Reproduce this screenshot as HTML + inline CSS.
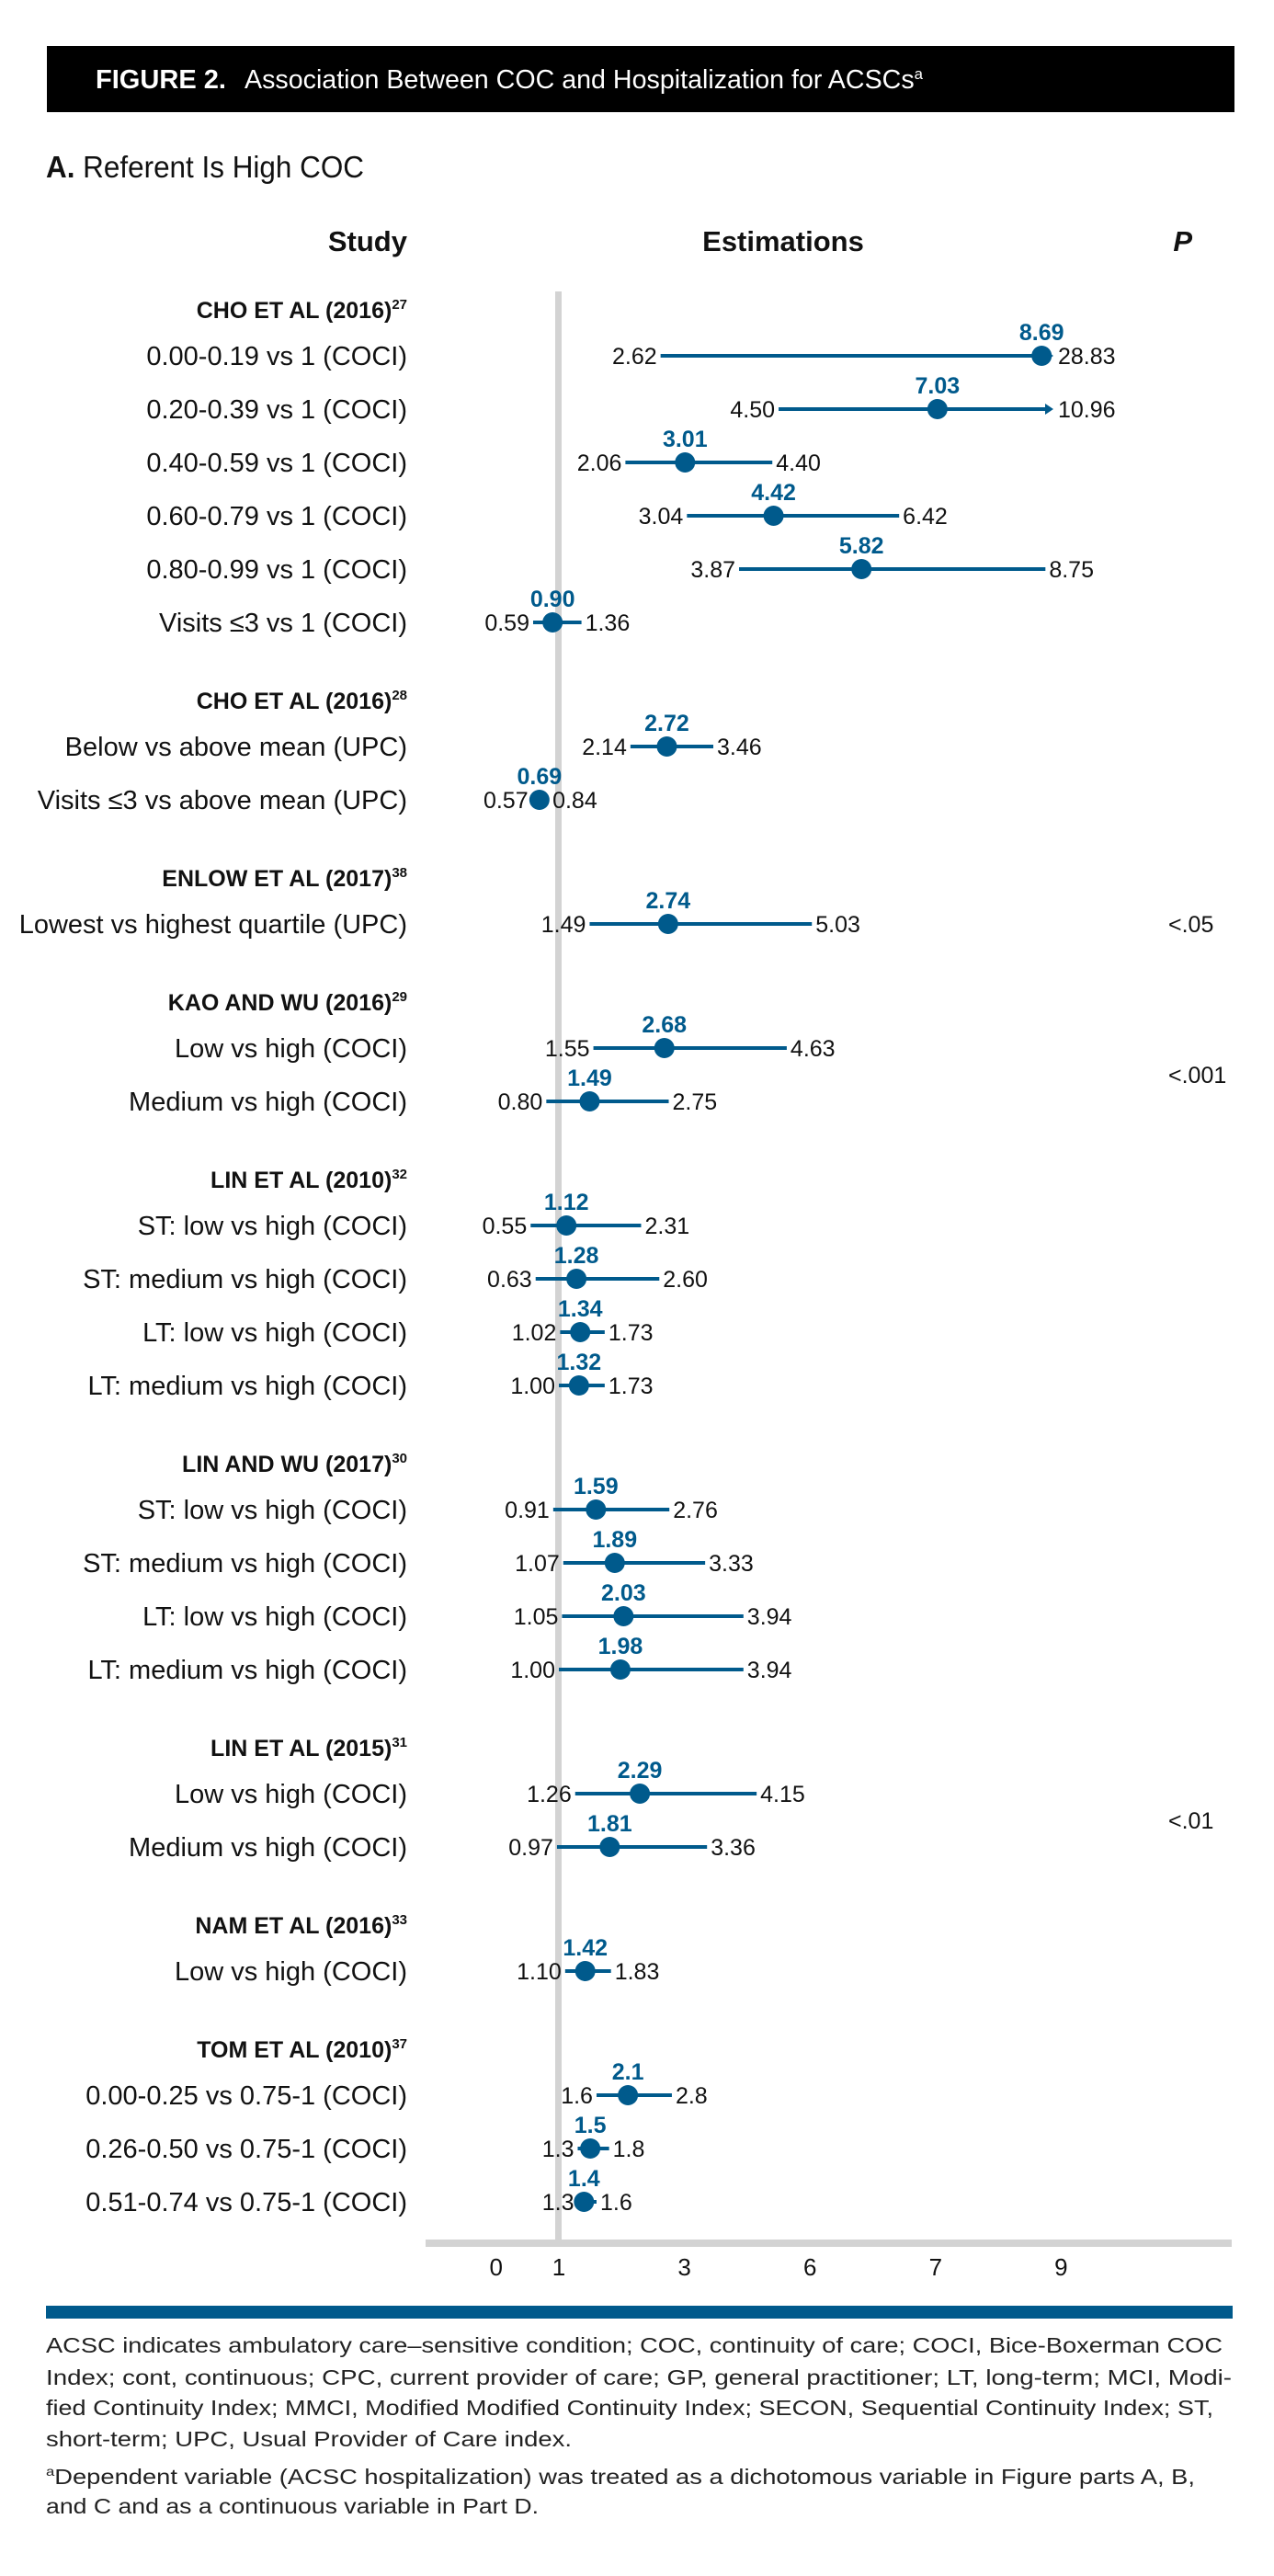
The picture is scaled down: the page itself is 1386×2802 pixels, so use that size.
<!DOCTYPE html>
<html><head><meta charset="utf-8">
<style>
html,body{margin:0;padding:0;background:#fff;}
svg{display:block;}
text{font-family:"Liberation Sans",sans-serif;}
</style></head>
<body>
<svg id="chart" width="1386" height="2802" viewBox="0 0 1386 2802" xmlns="http://www.w3.org/2000/svg">
  <rect x="51" y="50" width="1292" height="72" fill="#000"/>
  <text x="104" y="96" fill="#fff" font-size="29" font-weight="bold" textLength="142" lengthAdjust="spacingAndGlyphs">FIGURE 2.</text>
  <text x="266" y="96" fill="#fff" font-size="29" textLength="738" lengthAdjust="spacingAndGlyphs">Association Between COC and Hospitalization for ACSCs<tspan font-size="17" dy="-10">a</tspan></text>
  <text x="50" y="193" font-size="33" fill="#111" textLength="346" lengthAdjust="spacingAndGlyphs"><tspan font-weight="bold">A.</tspan> Referent Is High COC</text>
  <text x="443" y="273" font-size="31" font-weight="bold" text-anchor="end" fill="#111">Study</text>
  <text x="852" y="273" font-size="31" font-weight="bold" text-anchor="middle" fill="#111">Estimations</text>
  <text x="1297" y="273" font-size="31" font-weight="bold" font-style="italic" text-anchor="end" fill="#111">P</text>
  <g id="plot"></g>
  <rect x="50" y="2508" width="1291" height="14" fill="#005a8c"/>
  <g font-size="23" fill="#222">
    <text x="50" y="2559" textLength="1280" lengthAdjust="spacingAndGlyphs">ACSC indicates ambulatory care–sensitive condition; COC, continuity of care; COCI, Bice-Boxerman COC</text>
    <text x="50" y="2594" textLength="1290" lengthAdjust="spacingAndGlyphs">Index; cont, continuous; CPC, current provider of care; GP, general practitioner; LT, long-term; MCI, Modi-</text>
    <text x="50" y="2627" textLength="1270" lengthAdjust="spacingAndGlyphs">fied Continuity Index; MMCI, Modified Modified Continuity Index; SECON, Sequential Continuity Index; ST,</text>
    <text x="50" y="2661" textLength="572" lengthAdjust="spacingAndGlyphs">short-term; UPC, Usual Provider of Care index.</text>
    <text x="50" y="2702" textLength="1250" lengthAdjust="spacingAndGlyphs"><tspan font-size="14" dy="-9">a</tspan><tspan dy="9">Dependent variable (ACSC hospitalization) was treated as a dichotomous variable in Figure parts A, B,</tspan></text>
    <text x="50" y="2734" textLength="536" lengthAdjust="spacingAndGlyphs">and C and as a continuous variable in Part D.</text>
  </g>
</svg>
<script>
const groupNames = ["CHO ET AL (2016)","CHO ET AL (2016)","ENLOW ET AL (2017)","KAO AND WU (2016)","LIN ET AL (2010)","LIN AND WU (2017)","LIN ET AL (2015)","NAM ET AL (2016)","TOM ET AL (2010)"];
const groupRefs = ["27","28","38","29","32","30","31","33","37"];
const groupP = ["","","<.05","<.001","","","<.01","",""];
const rowGroup = [0,0,0,0,0,0,1,1,2,3,3,4,4,4,4,5,5,5,5,6,6,7,8,8,8];
const rowLabels = ["0.00-0.19 vs 1 (COCI)","0.20-0.39 vs 1 (COCI)","0.40-0.59 vs 1 (COCI)","0.60-0.79 vs 1 (COCI)","0.80-0.99 vs 1 (COCI)","Visits ≤3 vs 1 (COCI)",
 "Below vs above mean (UPC)","Visits ≤3 vs above mean (UPC)",
 "Lowest vs highest quartile (UPC)",
 "Low vs high (COCI)","Medium vs high (COCI)",
 "ST: low vs high (COCI)","ST: medium vs high (COCI)","LT: low vs high (COCI)","LT: medium vs high (COCI)",
 "ST: low vs high (COCI)","ST: medium vs high (COCI)","LT: low vs high (COCI)","LT: medium vs high (COCI)",
 "Low vs high (COCI)","Medium vs high (COCI)",
 "Low vs high (COCI)",
 "0.00-0.25 vs 0.75-1 (COCI)","0.26-0.50 vs 0.75-1 (COCI)","0.51-0.74 vs 0.75-1 (COCI)"];
const estimates = ["8.69","7.03","3.01","4.42","5.82","0.90","2.72","0.69","2.74","2.68","1.49","1.12","1.28","1.34","1.32","1.59","1.89","2.03","1.98","2.29","1.81","1.42","2.1","1.5","1.4"];
const lowerCI = ["2.62","4.50","2.06","3.04","3.87","0.59","2.14","0.57","1.49","1.55","0.80","0.55","0.63","1.02","1.00","0.91","1.07","1.05","1.00","1.26","0.97","1.10","1.6","1.3","1.3"];
const upperCI = ["28.83","10.96","4.40","6.42","8.75","1.36","3.46","0.84","5.03","4.63","2.75","2.31","2.60","1.73","1.73","2.76","3.33","3.94","3.94","4.15","3.36","1.83","2.8","1.8","1.6"];
const tickValues = [0,1,3,5,7,9];
const tickLabels = ["0","1","3","6","7","9"];

const NS="http://www.w3.org/2000/svg";
const plot=document.getElementById('plot');
const BLUE="#005a8c";
const X0=608, UNIT=68.3, XMAX=1145;
function xScale(v){return X0+(v-1)*UNIT;}
function mk(tag,attrs,parent){const e=document.createElementNS(NS,tag);for(const k in attrs)e.setAttribute(k,attrs[k]);(parent||plot).appendChild(e);return e;}

const rowY=[], headerY=[];
let y=337, prevG=-1;
for(let i=0;i<rowGroup.length;i++){
  const g=rowGroup[i];
  if(g!==prevG){ if(prevG>=0) y+=85; headerY[g]=y; y+=50; prevG=g; }
  else y+=58;
  rowY.push(y);
}
const axisY=2436;
const ref=mk('rect',{x:X0-4,y:317,width:7,height:axisY-317,fill:'#d3d3d3'});


const ax=mk('rect',{x:463,y:axisY,width:877,height:8,fill:'#d3d3d3'});


tickValues.forEach((v,i)=>{
  const t=mk('text',{x:xScale(v),y:2475,'font-size':26,'text-anchor':'middle',fill:'#111'});
  t.textContent=tickLabels[i];
  
  
});
groupNames.forEach((n,g)=>{
  const t=mk('text',{x:443,y:headerY[g]+9,'font-size':25,'font-weight':'bold','text-anchor':'end',fill:'#111'});
  t.textContent=n;
  const s=document.createElementNS(NS,'tspan');
  s.setAttribute('font-size','15');s.setAttribute('dy','-10');s.textContent=groupRefs[g];t.appendChild(s);
  
  
  if(groupP[g]){
    const rs=rowY.filter((_,i)=>rowGroup[i]===g);
    const py=rs.reduce((a,b)=>a+b,0)/rs.length;
    const p=mk('text',{x:1271,y:py+9,'font-size':25,fill:'#111'});
    p.textContent=groupP[g];
    
    
  }
});
rowLabels.forEach((lab,i)=>{
  const yy=rowY[i];
  const t=mk('text',{x:443,y:yy+10,'font-size':29,'text-anchor':'end',fill:'#111'});
  t.textContent=lab;
  
  
  const e=parseFloat(estimates[i]), lo=parseFloat(lowerCI[i]), hi=parseFloat(upperCI[i]);
  const xl=xScale(lo); let xh=xScale(hi); const clipped=xh>XMAX; if(clipped) xh=XMAX;
  const ln=mk('line',{x1:xl,y1:yy,x2:xh-(clipped?6:0),y2:yy,stroke:BLUE,'stroke-width':4});
  
  
  if(clipped){
    const ar=mk('path',{d:`M${xh-8},${yy-6} L${xh+1},${yy} L${xh-8},${yy+6} Z`,fill:BLUE});
    
    
  }
  const c=mk('circle',{cx:xScale(e),cy:yy,r:11,fill:BLUE});
  
  
  const et=mk('text',{x:xScale(e),y:yy-17,'font-size':25,'font-weight':'bold','text-anchor':'middle',fill:BLUE});
  et.textContent=estimates[i];
  
  
  const lt=mk('text',{x:xl-4,y:yy+9,'font-size':25,'text-anchor':'end',fill:'#111'});
  lt.textContent=lowerCI[i];
  
  
  const ut=mk('text',{x:xh+(clipped?6:4),y:yy+9,'font-size':25,fill:'#111'});
  ut.textContent=upperCI[i];
  
  
});
</script>
</body></html>
